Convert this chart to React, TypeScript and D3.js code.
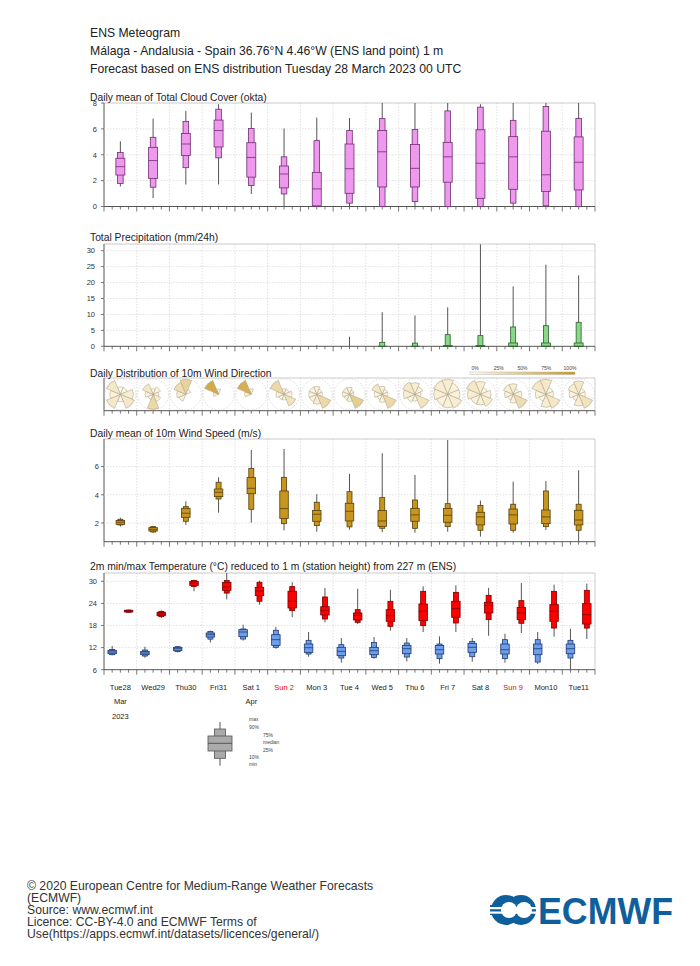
import React from "react";
import * as d3 from "d3";

// ---------- data ----------
const dayLabels = ["Tue28","Wed29","Thu30","Fri31","Sat 1","Sun 2","Mon 3","Tue 4","Wed 5","Thu 6","Fri 7","Sat 8","Sun 9","Mon10","Tue11"];
const sundayIdx = [5, 12];
const monthLabels = ["Mar", "", "", "", "Apr", "", "", "", "", "", "", "", "", "", ""];
const yearLabels = ["2023"];

// stats per day: [min, p10, p25, median, p75, p90, max]
const cloudStats = [
  [1.54,1.78,2.43,3.08,3.73,4.18,5.04],
  [0.65,1.49,2.17,3.55,4.57,5.35,6.79],
  [1.7,3.0,3.94,4.83,5.64,6.58,7.39],
  [1.7,3.76,4.6,5.87,6.68,7.52,7.91],
  [0.97,1.62,2.27,3.79,4.93,6.03,7.26],
  [0,0.97,1.44,2.51,3.13,3.84,6.03],
  [0,0,0.05,1.36,2.64,5.09,6.87],
  [0,0.26,1.02,2.92,4.83,5.87,6.84],
  [0,0,1.51,4.23,5.87,6.79,8],
  [0,0.39,1.51,2.95,4.8,5.95,8],
  [0,0,1.88,3.84,4.96,7.39,8],
  [0,0,0.63,3.34,5.93,7.68,7.91],
  [0,0.26,1.33,3.84,5.4,6.66,8],
  [0,0.05,1.17,2.45,5.82,7.73,8],
  [0,0,1.28,3.42,5.38,6.81,8],
];
const precipStats = [
  [0,0,0,0,0,0,0],
  [0,0,0,0,0,0,0],
  [0,0,0,0,0,0,0],
  [0,0,0,0,0,0,0],
  [0,0,0,0,0,0,0],
  [0,0,0,0,0,0,0],
  [0,0,0,0,0,0,0.3],
  [0,0,0,0,0,0,3.0],
  [0,0,0,0,0,1.25,10.7],
  [0,0,0,0,0,1.0,9.7],
  [0,0,0,0,0.2,3.66,12.2],
  [0,0,0,0,0.2,3.35,32],
  [0,0,0,0.05,1.04,6.06,18.8],
  [0,0,0,0.05,1.04,6.48,25.6],
  [0,0,0,0.05,1.04,7.52,22.3],
];
const windStats = [
  [1.74,1.86,1.9,2.05,2.17,2.26,2.38],
  [1.29,1.36,1.43,1.55,1.67,1.74,1.79],
  [1.86,2.12,2.4,2.69,3.04,3.16,3.54],
  [2.73,3.7,3.87,4.18,4.41,4.89,5.24],
  [2.02,2.97,4.08,4.46,5.22,5.86,7.18],
  [1.48,1.95,2.31,3.02,4.27,5.24,7.25],
  [1.38,1.81,2.12,2.62,2.88,3.47,4.04],
  [1.53,1.72,2.14,2.83,3.4,4.22,5.48],
  [1.34,1.62,1.76,2.14,2.88,3.8,6.95],
  [1.31,1.62,2.12,2.57,3.04,3.63,5.41],
  [1.38,1.74,2.05,2.54,3.04,3.37,7.89],
  [1.03,1.48,1.86,2.43,2.76,3.25,3.59],
  [1.31,1.48,1.93,2.57,2.99,3.33,4.93],
  [1.5,1.74,1.95,2.43,2.92,4.27,4.98],
  [0.67,1.48,1.86,2.21,2.9,3.33,5.74],
];
const tminStats = [
  [9.9,10.07,10.34,10.8,11.25,11.5,12.43],
  [9.26,9.71,10.07,10.53,10.98,11.34,12.25],
  [10.7,10.9,11.16,11.7,12.07,12.25,12.43],
  [13.4,14.3,14.87,15.5,15.96,16.4,16.6],
  [13.9,14.33,14.96,16.23,16.87,17.05,18.2],
  [11.7,12.07,12.6,14.15,15.5,16.7,17.6],
  [9.53,10.25,10.7,11.97,12.97,13.97,16.23],
  [7.9,9.17,9.8,10.98,12.07,12.8,14.6],
  [9.0,9.35,10.07,11.16,12.07,13.4,14.87],
  [8.26,9.44,10.34,11.7,12.6,13.24,14.6],
  [7.63,9.0,10.25,11.43,12.6,12.97,15.05],
  [8.17,9.53,10.7,12.07,13.15,13.7,14.6],
  [7.9,9.0,10.25,11.43,12.97,14.15,15.78],
  [7.54,8.08,10.07,11.7,12.97,14.15,16.23],
  [6.0,9.17,10.34,11.7,12.97,13.97,17.14],
];
const tmaxStats = [
  [21.5,21.6,21.67,21.94,22.12,22.2,22.3],
  [20.04,20.4,20.67,21.12,21.58,21.85,22.1],
  [27.3,28.6,28.9,29.5,30.0,30.2,30.45],
  [25.1,26.8,27.55,28.46,29.7,30.2,32.3],
  [23.66,24.57,26.1,27.37,28.37,29.73,30.2],
  [20.3,22.03,22.75,24.57,27.3,28.55,29.73],
  [18.86,19.76,20.85,22.03,23.1,25.74,28.2],
  [18.4,18.86,19.5,20.76,21.4,22.3,28.0],
  [16.6,17.77,19.13,20.67,22.3,24.57,27.7],
  [16.23,17.95,19.31,21.85,23.84,27.28,28.64],
  [16.23,18.68,20.22,22.57,24.57,27.0,28.9],
  [15.2,19.58,21.4,23.48,24.3,26.2,28.2],
  [15.96,18.6,19.58,21.4,22.93,24.75,29.55],
  [14.96,17.3,19.13,21.85,23.66,27.28,29.1],
  [14.33,17.3,18.4,20.94,23.93,27.55,29.37],
];
// wind direction frequencies: N, NE, E, SE, S, SW, W, NW
const windDirFreq = [
  [0.05,0.05,0.15,0.2,0.05,0.2,0.1,0.2],
  [0.05,0.1,0.05,0.1,0.35,0.05,0.1,0.2],
  [0.4,0.05,0,0,0,0.1,0.15,0.3],
  [0.1,0,0,0,0,0,0.1,0.8],
  [0.1,0,0,0,0,0,0.15,0.75],
  [0.05,0.05,0.1,0.25,0.05,0.05,0.1,0.35],
  [0.1,0.05,0.05,0.35,0.15,0.1,0.1,0.1],
  [0.1,0.05,0.03,0.45,0.1,0.07,0.1,0.1],
  [0.1,0.05,0.05,0.35,0.1,0.05,0.1,0.2],
  [0.15,0.08,0.04,0.25,0.05,0.08,0.15,0.2],
  [0.15,0.1,0.1,0.15,0.12,0.1,0.13,0.15],
  [0.15,0.05,0.1,0.15,0.1,0.1,0.15,0.2],
  [0.15,0.05,0.1,0.3,0.1,0.05,0.1,0.15],
  [0.2,0.05,0.05,0.2,0.15,0.05,0.1,0.2],
  [0.2,0.05,0.05,0.25,0.15,0.05,0.1,0.15],
];
const cloudTicks = [0, 2, 4, 6, 8];
const precipTicks = [0, 5, 10, 15, 20, 25, 30];
const windTicks = [2, 4, 6];
const tempTicks = [6, 12, 18, 24, 30];
const pctTicks = ["0%", "25%", "50%", "75%", "100%"];
const legendLabels = ["max", "90%", "75%", "median", "25%", "10%", "min"];
const headerLines = [
  "ENS Meteogram",
  "Málaga - Andalusia - Spain 36.76°N 4.46°W (ENS land point) 1 m",
  "Forecast based on ENS distribution Tuesday 28 March 2023 00 UTC",
];
const footerLines = [
  "© 2020 European Centre for Medium-Range Weather Forecasts",
  "(ECMWF)",
  "Source: www.ecmwf.int",
  "Licence: CC-BY-4.0 and ECMWF Terms of",
  "Use(https://apps.ecmwf.int/datasets/licences/general/)",
];

// ---------- layout ----------
const FONT = "'Liberation Sans', Arial, Helvetica, sans-serif";
const X0 = 104, X1 = 595;
const nDays = dayLabels.length;
const x = d3.scaleLinear().domain([0, nDays]).range([X0, X1]);

type Panel = { top: number; bottom: number; y: d3.ScaleLinear<number, number> };
const mk = (top: number, bottom: number, dom: [number, number]): Panel => ({
  top, bottom, y: d3.scaleLinear().domain(dom).range([bottom, top]).clamp(true),
});
const cloudP = mk(103, 206.5, [0, 8]);
const precipP = mk(244, 346.3, [0, 32.1]);
const dirP = { top: 378, bottom: 410.7 };
const windP = mk(439, 541.7, [0.67, 7.96]);
const tempP = mk(573, 669.7, [6, 32.25]);

function Frame({ top, bottom }: { top: number; bottom: number }) {
  const ticks = d3.range(0, nDays * 4 + 1);
  return (
    <g>
      {d3.range(1, nDays).map((d) => (
        <line key={"vg" + d} x1={x(d)} x2={x(d)} y1={top} y2={bottom} stroke="#d4d4d4" strokeWidth={0.7} strokeDasharray="1.5,1.5" />
      ))}
      <line x1={X0} x2={X1} y1={top} y2={top} stroke="#bdbdbd" strokeWidth={0.8} />
      <line x1={X1} x2={X1} y1={top} y2={bottom} stroke="#bdbdbd" strokeWidth={0.8} />
      <line x1={X0} x2={X0} y1={top} y2={bottom} stroke="#555" strokeWidth={1} />
      <line x1={X0} x2={X1} y1={bottom} y2={bottom} stroke="#555" strokeWidth={1} />
      {ticks.map((t) => (
        <line key={"t" + t} x1={x(t / 4)} x2={x(t / 4)} y1={bottom} y2={bottom + (t % 4 === 0 ? 5 : 3)} stroke="#555" strokeWidth={0.8} />
      ))}
    </g>
  );
}

function YAxis({ p, ticks, labelX = 98 }: { p: Panel; ticks: number[]; labelX?: number }) {
  return (
    <g>
      {ticks.map((t) => (
        <g key={t}>
          {p.y(t) > p.top + 1 && p.y(t) < p.bottom - 1 ? (
            <line x1={X0} x2={X1} y1={p.y(t)} y2={p.y(t)} stroke="#d4d4d4" strokeWidth={0.7} strokeDasharray="1.5,1.5" />
          ) : null}
          <line x1={X0 - 3} x2={X0} y1={p.y(t)} y2={p.y(t)} stroke="#555" strokeWidth={0.8} />
          <text x={labelX} y={p.y(t) + 2.8} fontSize={7.5} textAnchor="end" fill="#333" fontFamily={FONT}>{t}</text>
        </g>
      ))}
    </g>
  );
}

function Boxes({ stats, p, offset, wide, narrow, fill, stroke, skipZero = false }: {
  stats: number[][]; p: Panel; offset: number; wide: number; narrow: number; fill: string; stroke: string; skipZero?: boolean;
}) {
  return (
    <g>
      {stats.map((s, i) => {
        const [mn, p10, p25, med, p75, p90, mx] = s;
        if (skipZero && mx <= 0) return null;
        const cx = x(i + offset);
        const y = p.y;
        const showBoxes = !skipZero || p90 > 0;
        return (
          <g key={i}>
            <line x1={cx} x2={cx} y1={y(mn)} y2={y(mx)} stroke="#555" strokeWidth={1} />
            {showBoxes && (
              <rect x={cx - narrow / 2} y={y(p90)} width={narrow} height={Math.max(0, y(p10) - y(p90))} fill={fill} stroke={stroke} strokeWidth={0.8} />
            )}
            {showBoxes && (
              <rect x={cx - wide / 2} y={y(p75)} width={wide} height={Math.max(0, y(p25) - y(p75))} fill={fill} stroke={stroke} strokeWidth={0.8} />
            )}
            {showBoxes && (
              <line x1={cx - wide / 2} x2={cx + wide / 2} y1={y(med)} y2={y(med)} stroke={stroke} strokeWidth={0.8} />
            )}
          </g>
        );
      })}
    </g>
  );
}

const roseColor = d3.scaleLinear<string>().domain([0, 1]).range(["#fffcf2", "#c8961e"]);

function Roses() {
  const cy = (dirP.top + dirP.bottom) / 2;
  const R = 15;
  const arc = d3.arc<any>();
  return (
    <g>
      {windDirFreq.map((f, i) => {
        const cx = x(i + 0.5);
        const mx = d3.max(f) || 1;
        return (
          <g key={i} transform={`translate(${cx},${cy})`}>
            <circle r={R + 0.5} fill="none" stroke="#cfcfcf" strokeWidth={0.7} strokeDasharray="1.5,1.5" />
            {f.map((v, k) => {
              if (v <= 0) return null;
              const a = (k * Math.PI) / 4;
              const r = R * Math.sqrt(v / mx);
              const d = arc({ innerRadius: 0, outerRadius: r, startAngle: a - Math.PI / 8, endAngle: a + Math.PI / 8 }) as string;
              return <path key={k} d={d} fill={roseColor(v)} stroke="#a89c80" strokeWidth={0.5} />;
            })}
          </g>
        );
      })}
    </g>
  );
}

function ColorBar() {
  const bx0 = 470, bx1 = 575, by = 372;
  const stops = d3.range(0, 1.01, 0.1);
  return (
    <g>
      <defs>
        <linearGradient id="rosegrad" x1="0" x2="1" y1="0" y2="0">
          {stops.map((s) => (
            <stop key={s} offset={s} stopColor={roseColor(s)} />
          ))}
        </linearGradient>
      </defs>
      <rect x={bx0} y={by} width={bx1 - bx0} height={2.5} fill="url(#rosegrad)" stroke="#aaa" strokeWidth={0.4} />
      {pctTicks.map((t, i) => (
        <text key={t} x={bx0 + 5 + (i * (bx1 - bx0 - 10)) / 4} y={369.5} fontSize={5} textAnchor="middle" fill="#444" fontFamily={FONT}>{t}</text>
      ))}
    </g>
  );
}

function Legend() {
  const cx = 220;
  // legend box drawn at evenly spaced positions
  const yv = [765.7, 758.3, 751, 743.3, 736, 729, 722];
  const fill = "#aaaaaa", stroke = "#555";
  const textX = [249, 249, 263, 263, 263, 249, 249];
  const textY = [719.3, 726.7, 735, 742.3, 749.7, 756.7, 764];
  return (
    <g>
      <line x1={cx} x2={cx} y1={yv[6]} y2={yv[0]} stroke="#555" strokeWidth={1} />
      <rect x={cx - 5.6} y={yv[5]} width={11.2} height={yv[1] - yv[5]} fill={fill} stroke={stroke} strokeWidth={0.8} />
      <rect x={cx - 12} y={yv[4]} width={24} height={yv[2] - yv[4]} fill={fill} stroke={stroke} strokeWidth={0.8} />
      <line x1={cx - 12} x2={cx + 12} y1={yv[3]} y2={yv[3]} stroke={stroke} strokeWidth={1} />
      {legendLabels.map((l, i) => (
        <text key={l} x={textX[i]} y={textY[i] + 1.8} fontSize={5} fill="#444" fontFamily={FONT}>{l}</text>
      ))}
    </g>
  );
}

function Logo() {
  const blue = "#0f5f9c";
  return (
    <g>
      <circle cx={506} cy={910} r={15} fill={blue} />
      <circle cx={521} cy={910} r={15} fill={blue} />
      <circle cx={509} cy={910} r={8} fill="#fff" />
      <circle cx={524} cy={910} r={8} fill="#fff" />
      <rect x={494} y={907} width={44} height={2.2} fill="#fff" />
      <rect x={494} y={911.5} width={44} height={2.2} fill="#fff" />
      <rect x={490} y={905} width={10} height={10} fill={blue} />
      <rect x={490} y={907} width={10} height={2.2} fill="#fff" />
      <rect x={490} y={911.5} width={10} height={2.2} fill="#fff" />
      <text x={538} y={924} fontSize={37} fontWeight="bold" fill={blue} fontFamily={FONT} textLength={135} lengthAdjust="spacingAndGlyphs">ECMWF</text>
    </g>
  );
}

export default function App() {
  const titleStyle = { fontSize: 10.3, fill: "#222", fontFamily: FONT };
  return (
    <svg width={700} height={966} style={{ position: "absolute", left: 0, top: 0, background: "#fff" }}>
      <rect width={700} height={966} fill="#fff" />
      {headerLines.map((t, i) => (
        <text key={i} x={90} y={[37, 55, 72.5][i]} fontSize={12.2} fill="#222" fontFamily={FONT}>{t}</text>
      ))}

      {/* Cloud cover */}
      <Frame top={cloudP.top} bottom={cloudP.bottom} />
      <YAxis p={cloudP} ticks={cloudTicks} labelX={97} />
      <Boxes stats={cloudStats} p={cloudP} offset={0.5} wide={9} narrow={5.6} fill="#ee99ee" stroke="#6e2e6e" />
      <text x={90} y={100.5} {...titleStyle}>Daily mean of Total Cloud Cover (okta)</text>

      {/* Precipitation */}
      <Frame top={precipP.top} bottom={precipP.bottom} />
      <YAxis p={precipP} ticks={precipTicks} labelX={95} />
      <Boxes stats={precipStats} p={precipP} offset={0.5} wide={9} narrow={5} fill="#88d888" stroke="#2c5f2c" skipZero />
      <text x={90} y={240.5} {...titleStyle}>Total Precipitation (mm/24h)</text>

      {/* Wind direction */}
      <Frame top={dirP.top} bottom={dirP.bottom} />
      <Roses />
      <text x={90} y={376.5} {...titleStyle}>Daily Distribution of 10m Wind Direction</text>
      <ColorBar />

      {/* Wind speed */}
      <Frame top={windP.top} bottom={windP.bottom} />
      <YAxis p={windP} ticks={windTicks} labelX={99} />
      <Boxes stats={windStats} p={windP} offset={0.5} wide={8.5} narrow={5} fill="#c8961e" stroke="#55400c" />
      <text x={90} y={436.5} {...titleStyle}>Daily mean of 10m Wind Speed (m/s)</text>

      {/* Temperature */}
      <Frame top={tempP.top} bottom={tempP.bottom} />
      <YAxis p={tempP} ticks={tempTicks} labelX={97} />
      <Boxes stats={tminStats} p={tempP} offset={0.25} wide={8.5} narrow={5} fill="#6d9eeb" stroke="#1f3a70" />
      <Boxes stats={tmaxStats} p={tempP} offset={0.75} wide={8.5} narrow={5} fill="#ff0000" stroke="#7a0000" />
      <text x={90} y={569.5} {...titleStyle}>2m min/max Temperature (°C) reduced to 1 m (station height) from 227 m (ENS)</text>

      {/* x labels */}
      {dayLabels.map((d, i) => (
        <text key={d} x={x(i + 0.5)} y={690} fontSize={7.5} textAnchor="middle" fill={sundayIdx.includes(i) ? "#ee0000" : "#222"} fontFamily={FONT}>{d}</text>
      ))}
      {monthLabels.map((m, i) => m ? (
        <text key={"m" + i} x={x(i + 0.5)} y={704} fontSize={7.5} textAnchor="middle" fill="#222" fontFamily={FONT}>{m}</text>
      ) : null)}
      {yearLabels.map((yv, i) => (
        <text key={"y" + i} x={x(i + 0.5)} y={719} fontSize={7.5} textAnchor="middle" fill="#222" fontFamily={FONT}>{yv}</text>
      ))}

      <Legend />

      {footerLines.map((t, i) => (
        <text key={i} x={27} y={889.5 + i * 12} fontSize={12.2} fill="#333" fontFamily={FONT}>{t}</text>
      ))}
      <Logo />
    </svg>
  );
}
